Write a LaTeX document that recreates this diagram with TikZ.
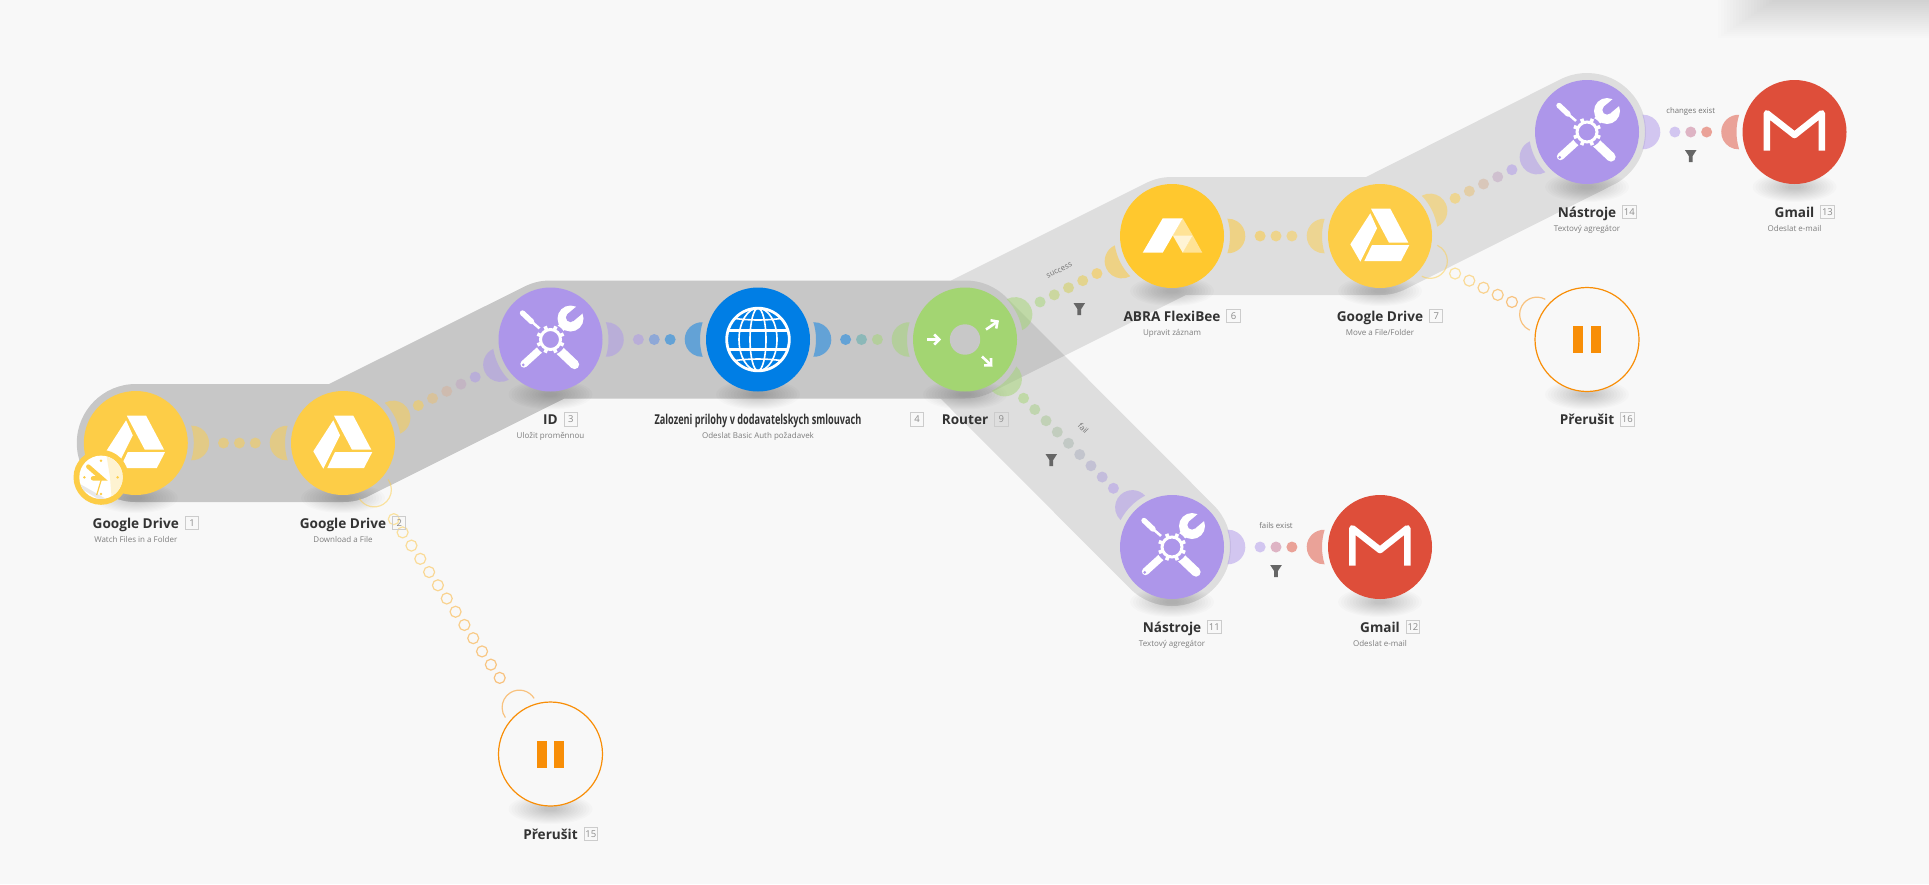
\documentclass[tikz,border=0pt]{standalone}
\usepackage{fontspec}
\setmainfont{Open Sans}
\usetikzlibrary{backgrounds,calc,arrows.meta}

\definecolor{pagebg}{RGB}{248,248,248}
\definecolor{cdrive}{RGB}{253,205,71}
\definecolor{cabra}{RGB}{255,200,46}
\definecolor{ctools}{RGB}{173,150,234}
\definecolor{chttp}{RGB}{0,126,229}
\definecolor{crouter}{RGB}{163,213,114}
\definecolor{cgmail}{RGB}{222,78,58}
\definecolor{cpause}{RGB}{248,142,7}
\definecolor{ctitle}{RGB}{51,51,51}
\definecolor{csub}{RGB}{125,125,125}

\tikzset{
  every pic/.style={yscale=-1},
  module/.style={circle,minimum size=104,inner sep=0},
  route/.style={draw=black,draw opacity=0.1,line width=118,line cap=round,line join=round},
  title/.style={anchor=base,inner sep=0,text=ctitle,font=\fontsize{13.6}{15}\selectfont\bfseries},
  subtitle/.style={anchor=base,inner sep=0,text=csub,font=\fontsize{8}{10}\selectfont},
  numbox/.style={draw=black!20,line width=1,minimum size=13.5,inner sep=0,text=black!45,font=\fontsize{9.5}{10}\selectfont},
  linklabel/.style={inner sep=0,text=black!55,font=\fontsize{7.8}{10}\selectfont},
  dotfill/.style={fill=#1,fill opacity=0.5},
  dotring/.style={draw=#1,draw opacity=0.5,line width=1.2},
  drive icon/.pic={
    \fill[white] (-9,-27.3) -- (10.3,-27.3) -- (28.3,6.7) -- (9,6.7) -- cycle;
    \fill[white] (-9.7,-22.7) -- (-3,-7.7) -- (-19.7,25.7) -- (-29.7,8.3) -- cycle;
    \fill[white] (-8,9) -- (29.3,9) -- (21,25) -- (-15.7,25) -- cycle;
  },
  abra icon/.pic={
    \fill[white] (-29.3,16.7) -- (-9.3,-17.7) -- (10.7,-17.7) -- (-9.3,16.7) -- cycle;
    \fill[white,fill opacity=0.5] (10.7,-17.7) -- (20.7,-0.7) -- (0.7,-0.7) -- cycle;
    \fill[white,fill opacity=0.8] (0.7,-0.7) -- (20.7,-0.7) -- (10.7,16.7) -- cycle;
    \fill[white,fill opacity=0.5] (20.7,-0.7) -- (30.3,16.7) -- (10.7,16.7) -- cycle;
  },
  tools icon/.pic={
    \draw[white,line width=2.5] (-19,-18) -- (-4,-5);
    \draw[white,line width=5.4,line cap=round] (-28,-26.5) -- (-19,-18);
    \draw[white,line width=7.3,line cap=round] (-26.5,24.5) -- (-5,5);
    \fill[ctools] (-27.3,25.3) circle (1.5);
    \draw[white,line width=9.3,line cap=round] (5,7) -- (24,25);
    \draw[white,line width=8] (5,-6) -- (15,-16);
    \fill[white] (20,-21) circle (13);
    \fill[ctools,shift={(20,-22)},rotate=-40] (0,-4.6) rectangle (20,4.6);
    \fill[ctools] (20,-22) circle (4.6);
    \fill[ctools] (0,0) circle (15.5);
    \foreach \a in {0,45,...,315}
      \draw[white,line width=3.6] (\a+22.5:10) -- (\a+22.5:14.2);
    \draw[white,line width=3] (0,0) circle (10);
  },
  http icon/.pic={
    \draw[white,line width=2.8] (0,0) circle (31.3);
    \draw[white,line width=1.6] (0,0) ellipse (8 and 31.3);
    \draw[white,line width=1.6] (0,0) ellipse (19 and 31.3);
    \draw[white,line width=3] (-29.5,-9.5) -- (29.5,-9.5);
    \draw[white,line width=3] (-29.5,9.5) -- (29.5,9.5);
    \draw[white,line width=1.6] (-23,-21) .. controls (-8,-19) and (8,-19) .. (23,-21);
    \draw[white,line width=1.6] (-23,21) .. controls (-8,19) and (8,19) .. (23,21);
  },
  router icon/.pic={
    \fill[black!21.5] (0,0) circle (15.2);
    \draw[white,line width=2.6,-{Straight Barb[length=5,width=10]}] (-38,0) -- (-24,0);
    \draw[white,line width=2.6,-{Straight Barb[length=5,width=10]}] (21,-10) -- (34,-19);
    \draw[white,line width=2.6,-{Straight Barb[length=5,width=10]}] (17,17) -- (27.5,27);
  },
  gmail icon/.pic={
    \draw[white,line width=6.6,line join=round] (-27.7,18.7) -- (-27.7,-18.7) -- (0,3) -- (27.3,-18.7) -- (27.3,18.7);
  },
  pause icon/.pic={
    \fill[cpause] (-13.7,-13.5) rectangle (-3.7,13.5);
    \fill[cpause] (3.7,-13.5) rectangle (13.7,13.5);
  },
  funnel/.pic={
    \fill[black!60] (-5.8,-6) -- (5.8,-6) -- (1.9,0) -- (1.9,6) -- (-1.9,6) -- (-1.9,0) -- cycle;
  },
}

% half moon beside a module, pointing at angle #2
\newcommand{\moon}[3]{\fill[#3,fill opacity=0.5,shift={(#1.center)},rotate=#2] (17.3:58) arc[start angle=92.1,end angle=-92.1,radius=17.3] arc[start angle=-17.3,end angle=17.3,radius=58] -- cycle;}
\newcommand{\hollowmoon}[3]{\draw[#3,draw opacity=0.5,line width=1.2,shift={(#1.center)},rotate=#2] (17.3:58) arc[start angle=92.1,end angle=-92.1,radius=17.3];}
% row of dots between two modules
\newcommand{\linkdots}[6]{%
  \foreach \k in {1,...,#4}{
    \pgfmathsetmacro\mixp{100*(\k-1)/(#4-1)}
    \pgfmathsetmacro\offs{15.9*(\k-(#4+1)/2)}
    \path[#1={#6!\mixp!#5}] ($(#2)!0.5!(#3)!\offs pt!(#3)$) circle (5.5);
  }}
% module with its title, number and subtitle
\newcommand{\modlabels}[6]{%
  \node[title] (t#1) at (#2,#3+85.3) {#4};
  \node[numbox] (n#1) at ($(t#1.base east)+(12.9,-5.3)$) {#5};
  \node[subtitle] (s#1) at (#2,#3+99) {#6};
}
\newcommand{\module}[7]{%
  \node[module,fill=c#4] (#1) at (#2,#3) {};
  \pic at (#1) {#4 icon};
  \modlabels{#1}{#2}{#3}{#5}{#6}{#7}
}

\begin{document}
\begin{tikzpicture}[x=1pt,y=1pt,yscale=-1]
\useasboundingbox (0,0) rectangle (1929,884);

% Modules
\module{drivea}{135.8}{443}{drive}{Google Drive}{1}{Watch Files in a Folder}
\module{driveb}{343}{443}{drive}{Google Drive}{2}{Download a File}
\module{idvar}{550.5}{339.5}{tools}{ID}{3}{Uložit proměnnou}
% title of this one is squeezed, its number stays where the full width would end
\node[module,fill=chttp] (http) at (758,339.5) {};
\pic at (http) {http icon};
\node[title,xscale=0.675] (thttp) at (758,424.8) {Zalozeni prilohy v dodavatelskych smlouvach};
\node[numbox] (nhttp) at (917,419.5) {4};
\node[subtitle] (shttp) at (758,438.5) {Odeslat Basic Auth požadavek};
\module{router}{965}{339.5}{router}{Router}{9}{}
\module{abra}{1172}{236}{abra}{ABRA FlexiBee}{6}{Upravit záznam}
\module{drivec}{1380}{236}{drive}{Google Drive}{7}{Move a File/Folder}
\module{toolsa}{1587}{132}{tools}{Nástroje}{14}{Textový agregátor}
\module{gmaila}{1794.5}{132}{gmail}{Gmail}{13}{Odeslat e-mail}
\module{toolsb}{1172}{547}{tools}{Nástroje}{11}{Textový agregátor}
\module{gmailb}{1380}{547}{gmail}{Gmail}{12}{Odeslat e-mail}
\node[module,draw=cpause,line width=1.2,fill=pagebg] (pausea) at (550.5,754) {};
\pic at (pausea) {pause icon};
\modlabels{pausea}{550.5}{754}{Přerušit}{15}{}
\node[module,draw=cpause,line width=1.2,fill=pagebg] (pauseb) at (1587,339.5) {};
\pic at (pauseb) {pause icon};
\modlabels{pauseb}{1587}{339.5}{Přerušit}{16}{}

% Clock on the first module
\begin{scope}[shift={(101,477.3)}]
\fill[cdrive] (0,0) circle (27.5);
\fill[white] (0,0) circle (21.7);
\begin{scope}
\clip (0,0) circle (21.7);
\fill[cdrive!25] (5,-25) -- (25,-25) -- (25,25) -- (11,25) -- (9,0) -- cycle;
\fill[black!9] (-24,5) -- (-24,9) -- (3,25) -- (11,25) -- cycle;
\end{scope}
\foreach \a in {0,90,180,270}
  \fill[cdrive] (\a:16.6) circle (1.4);
\draw[cdrive,line width=4.4,line cap=round] (-12.7,-10.7) -- (0.7,1) -- (-8,1);
\draw[cdrive,line width=1.2] (0.7,1) -- (-4.3,17.7);
\end{scope}

% Link labels and filters
\node[linklabel,rotate=26.6] (lsuccess) at (1059.3,270.5) {success};
\node[linklabel,rotate=-45] (lfail) at (1083.3,428) {fail};
\node[linklabel] (lfails) at (1276,525.3) {fails exist};
\node[linklabel] (lchanges) at (1690.7,111.3) {changes exist};
\pic at (1079.3,309) {funnel};
\pic at (1051.3,460) {funnel};
\pic at (1276,571) {funnel};
\pic at (1690.7,156) {funnel};

\begin{scope}[on background layer]
\fill[pagebg] (0,0) rectangle (1929,884);
% shadow of the panel at the top edge
\begin{scope}
\clip (0,0) rectangle (1929,884);
\foreach \d in {0,2,...,38}
  \fill[black,fill opacity=0.009] (1775-1.5*\d,-30) rectangle (1960,\d);
\end{scope}
% Routes
\draw[route] (drivea.center) -- (driveb.center) -- (idvar.center) -- (http.center) -- (router.center) -- (abra.center) -- (drivec.center) -- (toolsa.center);
\draw[route] (drivea.center) -- (driveb.center) -- (idvar.center) -- (http.center) -- (router.center) -- (toolsb.center);
% Shadows
\foreach \m in {drivea,driveb,idvar,http,router,abra,drivec,toolsa,gmaila,toolsb,gmailb,pausea,pauseb}
  \foreach \s in {1,0.93,...,0.1}
    \fill[black,fill opacity=0.015] ($(\m)+(0,55)$) ellipse ({42*\s} and {15*\s});
% Half moons
\moon{drivea}{0}{cdrive}
\moon{driveb}{180}{cdrive}
\moon{driveb}{-26.6}{cdrive}
\moon{idvar}{153.4}{ctools}
\moon{idvar}{0}{ctools}
\moon{http}{180}{chttp}
\moon{http}{0}{chttp}
\moon{router}{180}{crouter}
\moon{router}{-26.6}{crouter}
\moon{router}{45}{crouter}
\moon{abra}{153.4}{cabra}
\moon{abra}{0}{cabra}
\moon{drivec}{180}{cdrive}
\moon{drivec}{-26.6}{cdrive}
\moon{toolsa}{153.4}{ctools}
\moon{toolsa}{0}{ctools}
\moon{gmaila}{180}{cgmail}
\moon{toolsb}{-135}{ctools}
\moon{toolsb}{0}{ctools}
\moon{gmailb}{180}{cgmail}
\hollowmoon{driveb}{56.3}{cdrive}
\hollowmoon{pausea}{236.3}{cpause}
\hollowmoon{drivec}{26.6}{cdrive}
\hollowmoon{pauseb}{206.6}{cpause}
% Dots
\linkdots{dotfill}{drivea}{driveb}{3}{cdrive}{cdrive}
\linkdots{dotfill}{driveb}{idvar}{5}{cdrive}{ctools}
\linkdots{dotfill}{idvar}{http}{3}{ctools}{chttp}
\linkdots{dotfill}{http}{router}{3}{chttp}{crouter}
\linkdots{dotfill}{router}{abra}{5}{crouter}{cabra}
\linkdots{dotfill}{abra}{drivec}{3}{cabra}{cdrive}
\linkdots{dotfill}{drivec}{toolsa}{5}{cdrive}{ctools}
\linkdots{dotfill}{toolsa}{gmaila}{3}{ctools}{cgmail}
\linkdots{dotfill}{router}{toolsb}{9}{crouter}{ctools}
\linkdots{dotfill}{toolsb}{gmailb}{3}{ctools}{cgmail}
\linkdots{dotring}{driveb}{pausea}{13}{cdrive}{cpause}
\linkdots{dotring}{drivec}{pauseb}{5}{cdrive}{cpause}
\end{scope}
\end{tikzpicture}
\end{document}
